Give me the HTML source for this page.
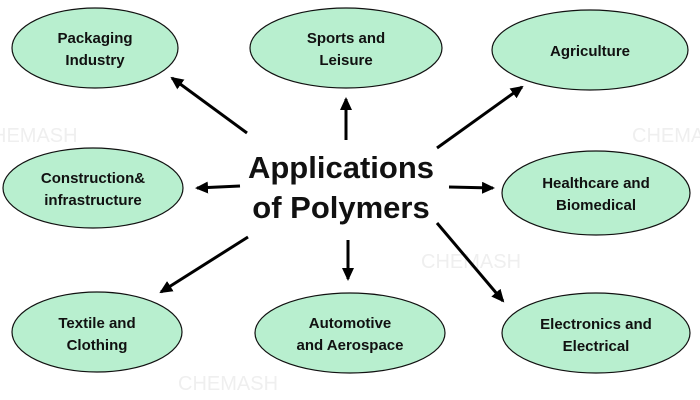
<!DOCTYPE html>
<html><head><style>body{margin:0;background:#fff}svg{display:block}</style></head><body>
<svg width="700" height="400" viewBox="0 0 700 400" xmlns="http://www.w3.org/2000/svg" font-family="Liberation Sans, sans-serif">
<defs><marker id="a" markerWidth="13" markerHeight="12" refX="11" refY="6" orient="auto" markerUnits="userSpaceOnUse" viewBox="0 0 13 12"><path d="M0,0 L13,6 L0,12 z" fill="#000"/></marker></defs>
<g fill="#efefef" font-size="20"><text x="-8" y="142">HEMASH</text><text x="632" y="142">CHEMASH</text><text x="421" y="268">CHEMASH</text><text x="178" y="390">CHEMASH</text></g>
<g fill="#b8efcf" stroke="#111" stroke-width="1.2">
<ellipse cx="95" cy="48" rx="83" ry="40"/>
<ellipse cx="346" cy="48" rx="96" ry="40"/>
<ellipse cx="590" cy="50" rx="98" ry="40"/>
<ellipse cx="93" cy="188" rx="90" ry="40"/>
<ellipse cx="596" cy="193" rx="94" ry="42"/>
<ellipse cx="97" cy="332" rx="85" ry="40"/>
<ellipse cx="350" cy="333" rx="95" ry="40"/>
<ellipse cx="596" cy="333" rx="94" ry="40"/>
</g>
<g stroke="#000" stroke-width="3" marker-end="url(#a)">
<line x1="247" y1="133" x2="172" y2="78"/>
<line x1="346" y1="140" x2="346" y2="99"/>
<line x1="437" y1="148" x2="522" y2="87"/>
<line x1="240" y1="186" x2="197" y2="188"/>
<line x1="449" y1="187" x2="493" y2="188"/>
<line x1="248" y1="237" x2="161" y2="292"/>
<line x1="348" y1="240" x2="348" y2="279"/>
<line x1="437" y1="223" x2="503" y2="301"/>
</g>
<g font-weight="bold" font-size="15" text-anchor="middle" fill="#111">
<text x="95" y="43">Packaging</text><text x="95" y="65">Industry</text>
<text x="346" y="43">Sports and</text><text x="346" y="65">Leisure</text>
<text x="590" y="56">Agriculture</text>
<text x="93" y="183">Construction&amp;</text><text x="93" y="205">infrastructure</text>
<text x="596" y="188">Healthcare and</text><text x="596" y="210">Biomedical</text>
<text x="97" y="328">Textile and</text><text x="97" y="350">Clothing</text>
<text x="350" y="328">Automotive</text><text x="350" y="350">and Aerospace</text>
<text x="596" y="329">Electronics and</text><text x="596" y="351">Electrical</text>
<text x="341" y="178" font-size="31">Applications</text>
<text x="341" y="218" font-size="31">of Polymers</text>
</g>
</svg>
</body></html>
